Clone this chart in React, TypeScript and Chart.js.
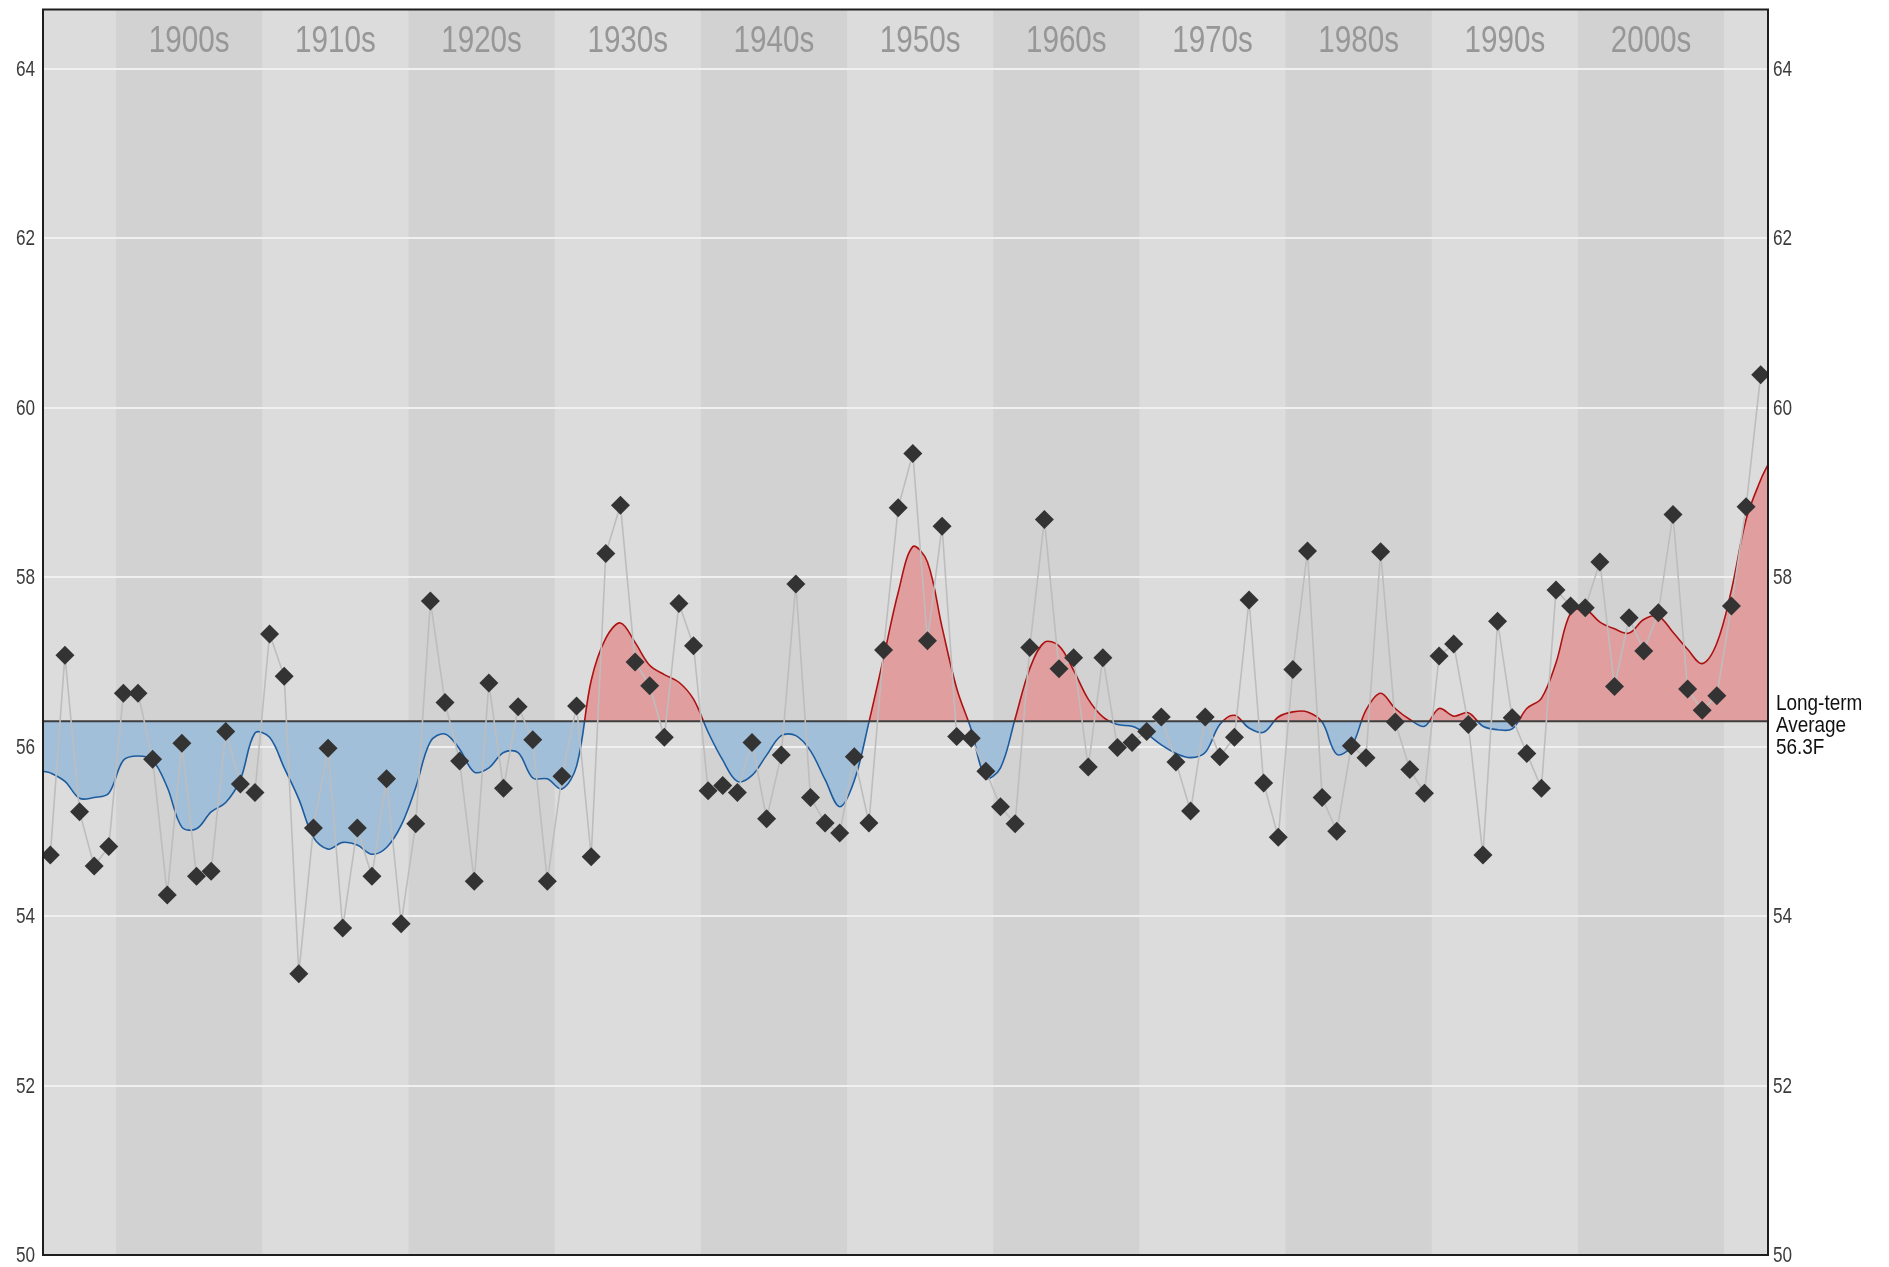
import React, { useEffect, useRef } from "react";
import { Chart, registerables } from "chart.js";

Chart.register(...registerables);

// ---------- DATA ----------
const years = [
  1895, 1896, 1897, 1898, 1899,
  1900, 1901, 1902, 1903, 1904, 1905, 1906, 1907, 1908, 1909,
  1910, 1911, 1912, 1913, 1914, 1915, 1916, 1917, 1918, 1919,
  1920, 1921, 1922, 1923, 1924, 1925, 1926, 1927, 1928, 1929,
  1930, 1931, 1932, 1933, 1934, 1935, 1936, 1937, 1938, 1939,
  1940, 1941, 1942, 1943, 1944, 1945, 1946, 1947, 1948, 1949,
  1950, 1951, 1952, 1953, 1954, 1955, 1956, 1957, 1958, 1959,
  1960, 1961, 1962, 1963, 1964, 1965, 1966, 1967, 1968, 1969,
  1970, 1971, 1972, 1973, 1974, 1975, 1976, 1977, 1978, 1979,
  1980, 1981, 1982, 1983, 1984, 1985, 1986, 1987, 1988, 1989,
  1990, 1991, 1992, 1993, 1994, 1995, 1996, 1997, 1998, 1999,
  2000, 2001, 2002, 2003, 2004, 2005, 2006, 2007, 2008, 2009,
  2010, 2011, 2012,
];

const annualTemps = [
  54.72, 57.08, 55.23, 54.59, 54.82,
  56.63, 56.63, 55.85, 54.25, 56.04, 54.47, 54.53, 56.18, 55.56, 55.46,
  57.33, 56.83, 53.32, 55.04, 55.98, 53.86, 55.04, 54.47, 55.62, 53.91,
  55.09, 57.72, 56.52, 55.83, 54.41, 56.75, 55.51, 56.47, 56.08, 54.41,
  55.65, 56.48, 54.70, 58.28, 58.85, 57.0, 56.72, 56.11, 57.69, 57.19,
  55.48, 55.54, 55.46, 56.05, 55.15, 55.90, 57.92, 55.40, 55.10, 54.98,
  55.88, 55.10, 57.14, 58.82, 59.46, 57.25, 58.60, 56.12, 56.10, 55.71,
  55.29, 55.09, 57.17, 58.68, 56.92, 57.05, 55.76, 57.05, 55.99, 56.05,
  56.18, 56.35, 55.82, 55.24, 56.35, 55.88, 56.11, 57.73, 55.57, 54.93,
  56.91, 58.31, 55.40, 55.0, 56.01, 55.87, 58.30, 56.29, 55.73, 55.45,
  57.07, 57.21, 56.26, 54.72, 57.48, 56.34, 55.92, 55.51, 57.85, 57.66,
  57.64, 58.18, 56.71, 57.52, 57.13, 57.58, 58.74, 56.68, 56.43, 56.60,
  57.66, 58.83, 60.39,
];

const smoothedTemps = [
  55.69, 55.59, 55.39, 55.40, 55.45,
  55.84, 55.89, 55.84, 55.52, 55.05, 55.03, 55.23, 55.34, 55.61, 56.16,
  56.11, 55.75, 55.38, 54.93, 54.79, 54.87, 54.84, 54.73, 54.81, 55.07,
  55.52, 56.06, 56.15, 55.97, 55.70, 55.75, 55.93, 55.93, 55.63, 55.62,
  55.50, 55.77, 56.78, 57.28, 57.46, 57.23, 56.96, 56.85, 56.76, 56.56,
  56.17, 55.84, 55.59, 55.66, 55.90, 56.13, 56.13, 55.95, 55.61, 55.29,
  55.60, 56.29, 57.05, 57.82, 58.36, 58.18, 57.41, 56.69, 56.20, 55.63,
  55.75, 56.33, 56.92, 57.23, 57.19, 56.90, 56.56, 56.35, 56.26, 56.24,
  56.15, 56.02, 55.92, 55.87, 55.93, 56.26, 56.37, 56.22, 56.17, 56.35,
  56.41, 56.41, 56.29, 55.91, 56.00, 56.43, 56.63, 56.45, 56.32, 56.24,
  56.45, 56.36, 56.40, 56.24, 56.20, 56.21, 56.45, 56.57, 56.99, 57.58,
  57.62, 57.47, 57.39, 57.34, 57.50, 57.54, 57.35, 57.15, 56.98, 57.22,
  57.85, 58.68, 59.15,
];

// smoothed curve values at the left and right plot edges
const smoothedEdges = [55.71, 59.33];

const longTermAverage = 56.3;
const averageLabelLines = ["Long-term", "Average", "56.3F"];

const decadeStarts = [1900, 1910, 1920, 1930, 1940, 1950, 1960, 1970, 1980, 1990, 2000];
const decadeLabels = ["1900s", "1910s", "1920s", "1930s", "1940s", "1950s", "1960s", "1970s", "1980s", "1990s", "2000s"];

const xRange = [1895, 2013];
const yRange = [50, 64.7];
const yTickStep = 2;
// right-hand tick that is replaced by the long-term average label
const rightHiddenTick = 56;

// ---------- STYLE ----------
const RED_FILL = "#e09e9e";
const RED_LINE = "#ad1212";
const BLUE_FILL = "#a2bfda";
const BLUE_LINE = "#1c5c9e";
const BAND_LIGHT = "#dcdcdc";
const BAND_DARK = "#d2d2d2";
const FONT = '"Liberation Sans", Arial, sans-serif';

function narrowText(
  ctx: CanvasRenderingContext2D,
  text: string,
  x: number,
  y: number,
  sx: number,
  align: CanvasTextAlign,
  baseline: CanvasTextBaseline
) {
  ctx.save();
  ctx.translate(x, y);
  ctx.scale(sx, 1);
  ctx.textAlign = align;
  ctx.textBaseline = baseline;
  ctx.fillText(text, 0, 0);
  ctx.restore();
}

const decorPlugin = {
  id: "decor",
  beforeDraw(chart: any) {
    const { ctx, chartArea: a, scales } = chart;
    const x = scales.x;
    ctx.save();
    ctx.fillStyle = BAND_LIGHT;
    ctx.fillRect(a.left, a.top, a.right - a.left, a.bottom - a.top);
    decadeStarts.forEach((d, i) => {
      const x0 = Math.max(a.left, x.getPixelForValue(d));
      const x1 = Math.min(a.right, x.getPixelForValue(d + 10));
      if (i % 2 === 0) {
        ctx.fillStyle = BAND_DARK;
        ctx.fillRect(x0, a.top, x1 - x0, a.bottom - a.top);
      }
    });
    ctx.fillStyle = "#979797";
    ctx.font = `37px ${FONT}`;
    decadeStarts.forEach((d, i) => {
      const cx = (x.getPixelForValue(d) + x.getPixelForValue(d + 10)) / 2;
      narrowText(ctx, decadeLabels[i], cx, a.top + 32, 0.8, "center", "middle");
    });
    ctx.restore();
  },
  afterDraw(chart: any) {
    const { ctx, chartArea: a, scales } = chart;
    const y = scales.y;
    ctx.save();
    // frame
    ctx.strokeStyle = "#1e1e1e";
    ctx.lineWidth = 2;
    ctx.strokeRect(a.left, a.top, a.right - a.left, a.bottom - a.top);
    // tick labels (both sides) from the y scale's ticks
    ctx.fillStyle = "#3c3c3c";
    ctx.font = `22px ${FONT}`;
    y.ticks.forEach((t: any) => {
      const py = y.getPixelForValue(t.value);
      narrowText(ctx, String(t.value), a.left - 8, py + 1, 0.78, "right", "middle");
      if (t.value !== rightHiddenTick) {
        narrowText(ctx, String(t.value), a.right + 5, py + 1, 0.78, "left", "middle");
      }
    });
    // long-term average label
    const ay = y.getPixelForValue(longTermAverage);
    ctx.fillStyle = "#111111";
    ctx.font = `22px ${FONT}`;
    averageLabelLines.forEach((s, i) => {
      narrowText(ctx, s, a.right + 8, ay - 11 + i * 22, 0.86, "left", "alphabetic");
    });
    ctx.restore();
  },
};

export default function App() {
  const canvasRef = useRef<HTMLCanvasElement | null>(null);

  useEffect(() => {
    const canvas = canvasRef.current;
    if (!canvas) return;

    const pointData = years.map((yr, i) => ({ x: yr + 0.5, y: annualTemps[i] }));
    const smoothData = [
      { x: xRange[0], y: smoothedEdges[0] },
      ...years.map((yr, i) => ({ x: yr + 0.5, y: smoothedTemps[i] })),
      { x: xRange[1], y: smoothedEdges[1] },
    ];
    const avgData = [
      { x: xRange[0], y: longTermAverage },
      { x: xRange[1], y: longTermAverage },
    ];

    const chart = new Chart(canvas, {
      type: "line",
      data: {
        datasets: [
          {
            label: "Annual",
            data: pointData,
            showLine: true,
            borderColor: "#bdbdbd",
            borderWidth: 1.6,
            tension: 0,
            pointStyle: "rectRot",
            pointRadius: 9.5,
            pointBackgroundColor: "#333333",
            pointBorderColor: "#333333",
            pointBorderWidth: 0,
            fill: false,
            order: 1,
          },
          {
            label: "Average",
            data: avgData,
            borderColor: "#3e3e3e",
            borderWidth: 2,
            pointRadius: 0,
            fill: false,
            order: 2,
          },
          {
            label: "Smoothed",
            data: smoothData,
            borderWidth: 1.6,
            pointRadius: 0,
            tension: 0.35,
            borderColor: (c: any) => {
              const ch = c.chart;
              const a = ch.chartArea;
              if (!a) return RED_LINE;
              const yy = ch.scales.y.getPixelForValue(longTermAverage);
              const t = Math.min(1, Math.max(0, (yy - a.top) / (a.bottom - a.top)));
              const g = ch.ctx.createLinearGradient(0, a.top, 0, a.bottom);
              g.addColorStop(0, RED_LINE);
              g.addColorStop(t, RED_LINE);
              g.addColorStop(t, BLUE_LINE);
              g.addColorStop(1, BLUE_LINE);
              return g;
            },
            fill: {
              target: { value: longTermAverage },
              above: RED_FILL,
              below: BLUE_FILL,
            },
            order: 3,
          },
        ],
      },
      options: {
        responsive: false,
        animation: false,
        devicePixelRatio: 1,
        layout: { padding: { left: 0, right: 0, top: 9, bottom: 12 } },
        plugins: {
          legend: { display: false },
          tooltip: { enabled: false },
        },
        scales: {
          x: {
            type: "linear",
            min: xRange[0],
            max: xRange[1],
            display: false,
          },
          y: {
            type: "linear",
            position: "left",
            min: yRange[0],
            max: yRange[1],
            ticks: { stepSize: yTickStep, includeBounds: false, display: false },
            grid: { color: "#f0f0f0", lineWidth: 2, drawTicks: false },
            border: { display: false },
            afterFit: (s: any) => {
              s.width = 43;
            },
          },
          y2: {
            type: "linear",
            position: "right",
            min: yRange[0],
            max: yRange[1],
            ticks: { stepSize: yTickStep, includeBounds: false, display: false },
            grid: { display: false, drawTicks: false },
            border: { display: false },
            afterFit: (s: any) => {
              s.width = 121;
            },
          },
        },
      } as any,
      plugins: [decorPlugin],
    });

    return () => chart.destroy();
  }, []);

  return (
    <div style={{ position: "absolute", left: 0, top: 0, width: 1889, height: 1267, background: "#ffffff" }}>
      <canvas ref={canvasRef} width={1889} height={1267} style={{ display: "block" }} />
    </div>
  );
}
